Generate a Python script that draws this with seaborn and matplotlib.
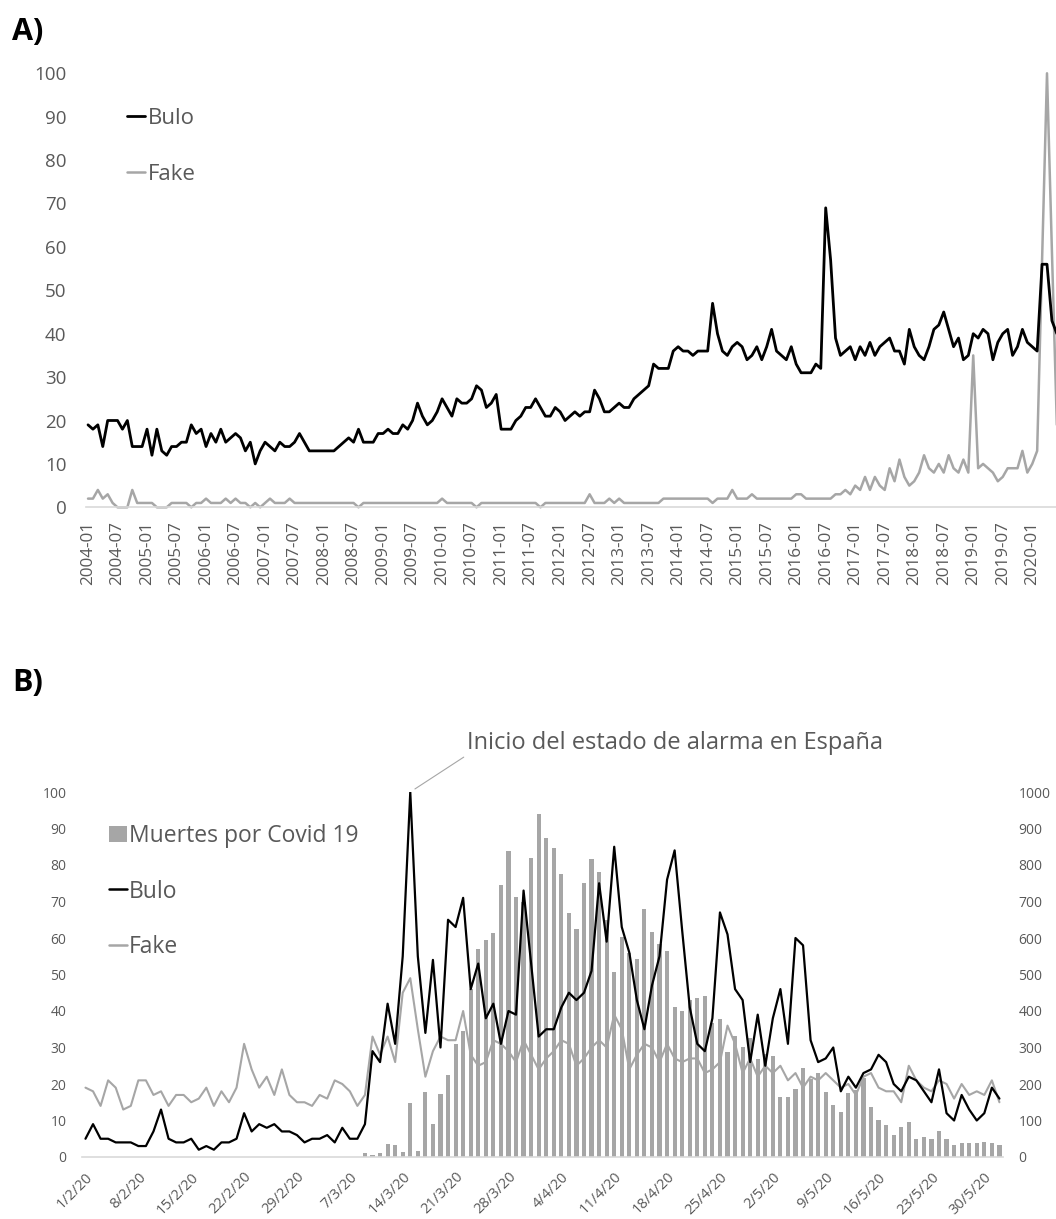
import numpy as np
import pandas as pd
import matplotlib
matplotlib.use("Agg")
import matplotlib.pyplot as plt
import seaborn as sns
from matplotlib.lines import Line2D
from matplotlib.patches import Patch

# ---------------- Panel A: monthly search interest 2004-01 .. 2020-06 ----------------
months_a = pd.period_range("2004-01", "2020-06", freq="M").strftime("%Y-%m").tolist()

bulo_a = [
    19, 18, 19, 14, 20, 20, 20, 18, 20, 14,
    14, 14, 18, 12, 18, 13, 12, 14, 14, 15,
    15, 19, 17, 18, 14, 17, 15, 18, 15, 16,
    17, 16, 13, 15, 10, 13, 15, 14, 13, 15,
    14, 14, 15, 17, 15, 13, 13, 13, 13, 13,
    13, 14, 15, 16, 15, 18, 15, 15, 15, 17,
    17, 18, 17, 17, 19, 18, 20, 24, 21, 19,
    20, 22, 25, 23, 21, 25, 24, 24, 25, 28,
    27, 23, 24, 26, 18, 18, 18, 20, 21, 23,
    23, 25, 23, 21, 21, 23, 22, 20, 21, 22,
    21, 22, 22, 27, 25, 22, 22, 23, 24, 23,
    23, 25, 26, 27, 28, 33, 32, 32, 32, 36,
    37, 36, 36, 35, 36, 36, 36, 47, 40, 36,
    35, 37, 38, 37, 34, 35, 37, 34, 37, 41,
    36, 35, 34, 37, 33, 31, 31, 31, 33, 32,
    69, 57, 39, 35, 36, 37, 34, 37, 35, 38,
    35, 37, 38, 39, 36, 36, 33, 41, 37, 35,
    34, 37, 41, 42, 45, 41, 37, 39, 34, 35,
    40, 39, 41, 40, 34, 38, 40, 41, 35, 37,
    41, 38, 37, 36, 56, 56, 43, 40,
]

fake_a = [
    2, 2, 4, 2, 3, 1, 0, 0, 0, 4,
    1, 1, 1, 1, 0, 0, 0, 1, 1, 1,
    1, 0, 1, 1, 2, 1, 1, 1, 2, 1,
    2, 1, 1, 0, 1, 0, 1, 2, 1, 1,
    1, 2, 1, 1, 1, 1, 1, 1, 1, 1,
    1, 1, 1, 1, 1, 0, 1, 1, 1, 1,
    1, 1, 1, 1, 1, 1, 1, 1, 1, 1,
    1, 1, 2, 1, 1, 1, 1, 1, 1, 0,
    1, 1, 1, 1, 1, 1, 1, 1, 1, 1,
    1, 1, 0, 1, 1, 1, 1, 1, 1, 1,
    1, 1, 3, 1, 1, 1, 2, 1, 2, 1,
    1, 1, 1, 1, 1, 1, 1, 2, 2, 2,
    2, 2, 2, 2, 2, 2, 2, 1, 2, 2,
    2, 4, 2, 2, 2, 3, 2, 2, 2, 2,
    2, 2, 2, 2, 3, 3, 2, 2, 2, 2,
    2, 2, 3, 3, 4, 3, 5, 4, 7, 4,
    7, 5, 4, 9, 6, 11, 7, 5, 6, 8,
    12, 9, 8, 10, 8, 12, 9, 8, 11, 8,
    35, 9, 10, 9, 8, 6, 7, 9, 9, 9,
    13, 8, 10, 13, 57, 100, 59, 19,
]

# ---------------- Panel B: daily data 1/2/20 .. 1/6/20 ----------------
dates_b = pd.date_range("2020-02-01", "2020-06-01", freq="D")
day_labels_b = [f"{d.day}/{d.month}/20" for d in dates_b]

bulo_b = [
    5, 9, 5, 5, 4, 4, 4, 3, 3, 7,
    13, 5, 4, 4, 5, 2, 3, 2, 4, 4,
    5, 12, 7, 9, 8, 9, 7, 7, 6, 4,
    5, 5, 6, 4, 8, 5, 5, 9, 29, 26,
    42, 31, 55, 100, 55, 34, 54, 30, 65, 63,
    71, 46, 53, 38, 42, 31, 40, 39, 73, 53,
    33, 35, 35, 41, 45, 43, 45, 51, 75, 59,
    85, 63, 56, 43, 35, 47, 55, 76, 84, 62,
    41, 31, 29, 38, 67, 61, 46, 43, 26, 39,
    25, 38, 46, 31, 60, 58, 32, 26, 27, 30,
    18, 22, 19, 23, 24, 28, 26, 20, 18, 22,
    21, 18, 15, 24, 12, 10, 17, 13, 10, 12,
    19, 16,
]

fake_b = [
    19, 18, 14, 21, 19, 13, 14, 21, 21, 17,
    18, 14, 17, 17, 15, 16, 19, 14, 18, 15,
    19, 31, 24, 19, 22, 17, 24, 17, 15, 15,
    14, 17, 16, 21, 20, 18, 14, 17, 33, 28,
    33, 26, 45, 49, 35, 22, 29, 33, 32, 32,
    40, 28, 25, 26, 32, 31, 29, 26, 32, 28,
    24, 27, 29, 32, 31, 25, 27, 30, 32, 30,
    39, 35, 24, 28, 31, 30, 26, 31, 27, 26,
    27, 27, 23, 24, 26, 36, 31, 23, 27, 22,
    25, 23, 25, 21, 23, 19, 22, 21, 23, 21,
    19, 20, 17, 22, 23, 19, 18, 18, 15, 25,
    21, 19, 18, 21, 20, 16, 20, 17, 18, 17,
    21, 15,
]

# daily deaths, from 9/3/20 (day index 37) to 1/6/20
deaths_start = 37
deaths_b = [
    10, 6, 10, 36, 34, 14, 149, 17, 179, 90,
    173, 226, 310, 345, 460, 569, 595, 615, 745, 838,
    713, 700, 818, 940, 873, 846, 775, 668, 626, 750,
    816, 780, 649, 508, 602, 560, 542, 680, 617, 584,
    565, 410, 399, 430, 435, 440, 367, 378, 288, 331,
    301, 325, 268, 281, 276, 164, 164, 185, 244, 213,
    229, 179, 143, 123, 176, 184, 217, 138, 102, 87,
    59, 83, 95, 48, 56, 48, 70, 50, 33, 38,
    38, 38, 42, 38, 33,
]

# ---------------- Style ----------------
sns.set_style("white")
plt.rcParams['font.family'] = ['Open Sans', 'DejaVu Sans']

TXT = '#595959'
GRAY = '#A6A6A6'
AXIS = '#D9D9D9'

W, H = 1056, 1219
fig = plt.figure(figsize=(W / 100, H / 100), dpi=100)
fig.patch.set_facecolor('white')


def rect(left_px, right_px, top_px, bottom_px):
    return [left_px / W, 1 - bottom_px / H, (right_px - left_px) / W, (bottom_px - top_px) / H]


# ================= Panel A =================
axA = fig.add_axes(rect(86, 1056, 73.3, 507.3))
m_idx = np.arange(len(months_a))
sns.lineplot(x=m_idx, y=fake_a, ax=axA, color=GRAY, linewidth=1.8, legend=False, clip_on=False)
sns.lineplot(x=m_idx, y=bulo_a, ax=axA, color='black', linewidth=2.0, legend=False, clip_on=False)
axA.set_xlim(-0.41, 196.83)
axA.set_ylim(0, 100)
axA.set_xticks(m_idx[0:193:6])
axA.set_xticklabels(months_a[0:193:6])
axA.set_yticks(np.arange(0, 101, 10))
axA.tick_params(axis='x', length=0, pad=10, labelsize=12.3, labelcolor=TXT, labelrotation=90)
axA.tick_params(axis='y', length=0, pad=14, labelsize=13.5, labelcolor=TXT)
for s in ['top', 'right', 'left']:
    axA.spines[s].set_visible(False)
axA.spines['bottom'].set_color(AXIS)
axA.spines['bottom'].set_linewidth(1.2)
axA.set_xlabel('')
axA.set_ylabel('')

handlesA = [Line2D([], [], color='black', lw=2.0), Line2D([], [], color=GRAY, lw=1.8)]
axA.legend(handlesA, ['Bulo', 'Fake'], loc='upper left',
           bbox_to_anchor=(127 / W, 1 - 108 / H), bbox_transform=fig.transFigure,
           frameon=False, fontsize=16, handlelength=0.8, handletextpad=0.15,
           labelspacing=1.57, borderpad=0, borderaxespad=0, labelcolor=TXT)

fig.text(12 / W, 1 - 40 / H, 'A)', fontsize=22, fontweight='bold', ha='left', va='baseline',
         color='black')

# ================= Panel B =================
axL = fig.add_axes(rect(81.7, 1003.2, 792, 1157))
axR = axL.twinx()
axR.set_zorder(axL.get_zorder() - 1)
axL.patch.set_visible(False)

days_b = np.arange(len(dates_b))
death_days = days_b[deaths_start:deaths_start + len(deaths_b)]
sns.barplot(x=death_days, y=deaths_b, ax=axR, native_scale=True, color=GRAY,
            saturation=1, width=0.55, errorbar=None, linewidth=0)
sns.lineplot(x=days_b, y=fake_b, ax=axL, color=GRAY, linewidth=1.5, legend=False)
sns.lineplot(x=days_b, y=bulo_b, ax=axL, color='black', linewidth=1.6, legend=False)

axL.set_xlim(-0.5, len(days_b) - 0.5)
axR.set_xlim(-0.5, len(days_b) - 0.5)
axL.set_ylim(0, 100)
axR.set_ylim(0, 1000)

axL.yaxis.tick_left()
axR.yaxis.tick_right()
axL.set_yticks(np.arange(0, 101, 10))
axR.set_yticks(np.arange(0, 1001, 100))
axL.tick_params(axis='y', length=0, pad=11, labelsize=10, labelcolor=TXT)
axR.tick_params(axis='y', length=0, pad=11, labelsize=10, labelcolor=TXT)

label_days = days_b[0:120:7]
axL.set_xticks(label_days - 0.5)
axL.set_xticklabels([''] * len(label_days))
axL.set_xticks(label_days, minor=True)
axL.set_xticklabels([day_labels_b[i] for i in label_days], minor=True)
axL.tick_params(axis='x', which='major', length=5, width=1, color=AXIS)
axL.tick_params(axis='x', which='minor', length=0, pad=9, labelsize=10.5, labelcolor=TXT)
for lab in axL.get_xticklabels(minor=True):
    lab.set_rotation(45)
    lab.set_ha('right')
    lab.set_va('top')
    lab.set_rotation_mode('anchor')

for ax in (axL, axR):
    for s in ['top', 'right', 'left', 'bottom']:
        ax.spines[s].set_visible(False)
    ax.set_xlabel('')
    ax.set_ylabel('')
axL.spines['bottom'].set_visible(True)
axL.spines['bottom'].set_color(AXIS)
axL.spines['bottom'].set_linewidth(1.2)

handlesB = [Patch(facecolor=GRAY, edgecolor='none'),
            Line2D([], [], color='black', lw=1.8),
            Line2D([], [], color=GRAY, lw=1.8)]
axL.legend(handlesB, ['Muertes por Covid 19', 'Bulo', 'Fake'], loc='upper left',
           bbox_to_anchor=(109 / W, 1 - 824 / H), bbox_transform=fig.transFigure,
           frameon=False, fontsize=16.5, handlelength=0.78, handleheight=0.75,
           handletextpad=0.1, labelspacing=1.38, borderpad=0, borderaxespad=0,
           labelcolor=TXT)

peak_day = int(np.argmax(bulo_b))
axL.annotate('Inicio del estado de alarma en España',
             xy=(peak_day, bulo_b[peak_day]), xycoords='data',
             xytext=(467, H - 749), textcoords='figure pixels',
             fontsize=17, color=TXT, ha='left', va='baseline',
             arrowprops=dict(arrowstyle='-', color=GRAY, lw=0.8,
                             shrinkA=0, shrinkB=4, relpos=(0, 0)))

fig.text(12 / W, 1 - 691 / H, 'B)', fontsize=22, fontweight='bold', ha='left', va='baseline',
         color='black')

fig.savefig('out.png', dpi=100, facecolor='white')
